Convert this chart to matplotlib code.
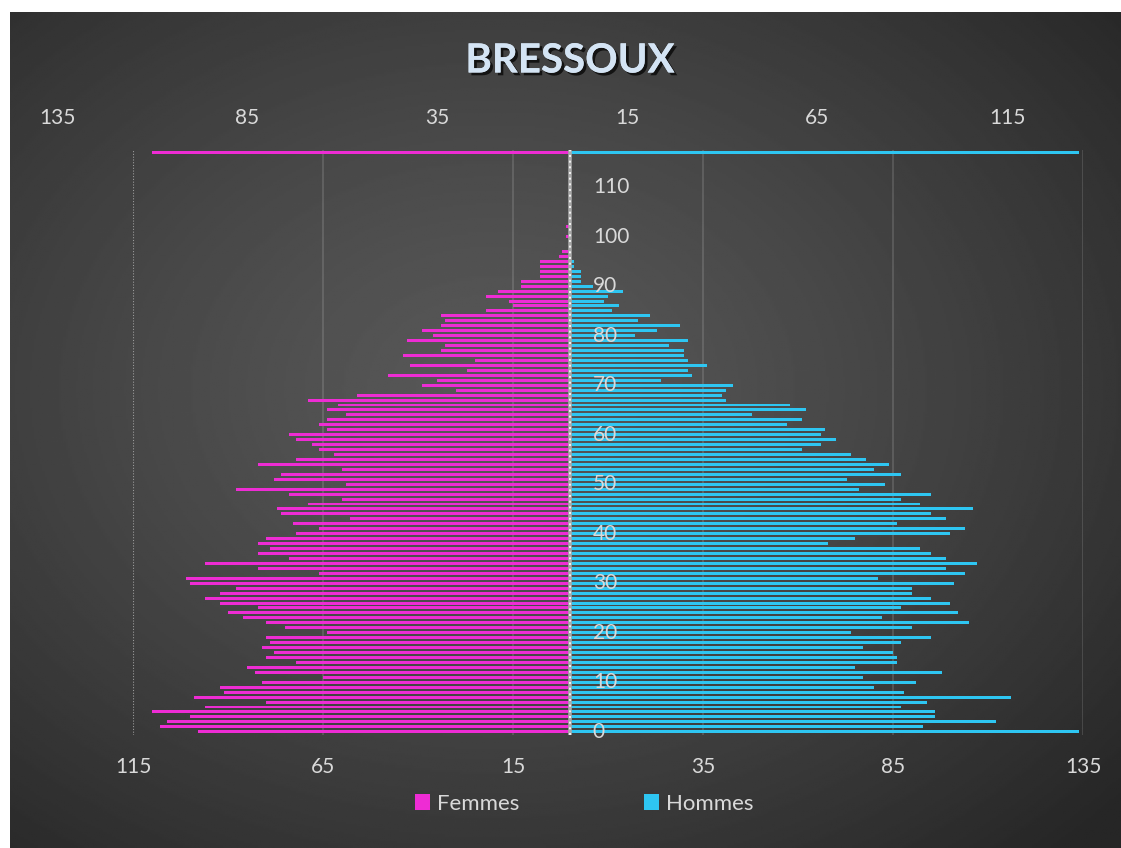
import numpy as np
import matplotlib.pyplot as plt
import matplotlib.patheffects as pe

# ages 0..102
ages = list(range(0, 103))
femmes = [98, 108, 106, 100, 110, 96, 80, 99, 91, 92,
          81, 65, 83, 85, 72, 80, 78, 81, 79, 80,
          64, 75, 80, 86, 90, 82, 92, 96, 92, 88,
          100, 101, 66, 82, 96, 74, 82, 79, 82, 80,
          72, 66, 73, 58, 76, 77, 69, 60, 74, 88,
          59, 78, 76, 60, 82, 72, 62, 66, 68, 72,
          74, 64, 66, 64, 59, 64, 61, 69, 56, 30,
          39, 35, 48, 27, 42, 25, 44, 34, 33, 43,
          36, 39, 34, 33, 34, 22, 15, 16, 22, 19,
          13, 13, 8, 8, 8, 8, 3, 2, 0, 0,
          1, 0, 1]
hommes = [134, 93, 112, 96, 96, 87, 94, 116, 88, 80,
          91, 77, 98, 75, 86, 86, 85, 77, 87, 95,
          74, 90, 105, 82, 102, 87, 100, 95, 90, 90,
          101, 81, 104, 99, 107, 99, 95, 92, 68, 75,
          100, 104, 86, 99, 95, 106, 92, 87, 95, 76,
          83, 73, 87, 80, 84, 78, 74, 61, 66, 70,
          66, 67, 57, 61, 48, 62, 58, 41, 40, 41,
          43, 24, 32, 31, 36, 31, 30, 30, 26, 31,
          17, 23, 29, 18, 21, 11, 13, 9, 10, 14,
          6, 3, 3, 3, 1, 1, 0, 0, 0, 0,
          0, 0, 0]

age_labels = list(range(0, 111, 10))
bottom_ticks = [-115, -65, -15, 35, 85, 135]
top_ticks = [-135, -85, -35, 15, 65, 115]
max_row = 117  # row of the max-value line at the top

PINK = "#EE2CD4"
CYAN = "#2EC6F2"
TXT = "#D9D9D9"
FONT = "Lato"

fig = plt.figure(figsize=(11.21, 8.48), dpi=100)
fig.patch.set_facecolor("white")

# dark radial background
bg = fig.add_axes([10 / 1121, 0, 1 - 10 / 1121, 1 - 12 / 848])
bg.set_axis_off()
yy, xx = np.mgrid[0:400, 0:530]
r = np.sqrt(((xx - 230) / 530.0) ** 2 + ((yy - 180) / 400.0) ** 2)
r = np.clip(r / 0.75, 0, 1)
val = 0.345 - (0.345 - 0.15) * r ** 1.3
bg.imshow(val, cmap="gray", vmin=0, vmax=1, aspect="auto", extent=[0, 1, 0, 1])

ax = fig.add_axes([133 / 1121, 0.1330, 950 / 1121, 0.6901])
ax.patch.set_alpha(0)
ax.set_xlim(-115, 135)
ax.set_ylim(-0.7, 117.5)

for g in bottom_ticks[1:]:
    ax.axvline(g, color="white", alpha=0.13, lw=1.5, zorder=0)
ax.axvline(-115, color="#9a9a9a", lw=0.8, ls=(0, (1, 1.5)), zorder=0)

ax.barh(ages, [-v for v in femmes], height=0.6, color=PINK, label="Femmes", zorder=2)
ax.barh(ages, hommes, height=0.6, color=CYAN, label="Hommes", zorder=2)
ax.barh([max_row], [-max(femmes)], height=0.6, color=PINK, zorder=2)
ax.barh([max_row], [max(hommes)], height=0.6, color=CYAN, zorder=2)

ax.axvline(0, color="#a8a8a8", lw=2.6, zorder=3)
ax.axvline(0, color="white", lw=1.2, ls=(0, (1.2, 2.2)), zorder=4)

for a in age_labels:
    ax.text(6, a, str(a), color=TXT, fontsize=15, family=FONT,
            ha="left", va="center", zorder=5)

ax.set_xticks(bottom_ticks)
ax.set_xticklabels([str(abs(t)) for t in bottom_ticks], color=TXT,
                   fontsize=15, family=FONT)
ax.tick_params(axis="x", length=0, pad=16)
ax.set_yticks([])
for s in ax.spines.values():
    s.set_visible(False)

for t in top_ticks:
    ax.text(t, 1.0 + 32 / 585, str(abs(t)), transform=ax.get_xaxis_transform(),
            color=TXT, fontsize=15, family=FONT, ha="center", va="center",
            clip_on=False)

fig.text(570 / 1121, 1 - 61 / 848, "BRESSOUX", color="#D4E4F4", fontsize=29,
         fontweight="bold", family=FONT, ha="center", va="center",
         path_effects=[pe.withSimplePatchShadow(offset=(2, -2), shadow_rgbFace="black",
                                                alpha=0.7), pe.Normal()])

leg = fig.legend(loc="center", bbox_to_anchor=(584 / 1121, 1 - 804 / 848), ncol=2,
                 frameon=False, handlelength=0.7, handleheight=0.7,
                 handletextpad=0.3, columnspacing=5.6,
                 prop={"family": FONT, "size": 16})
for t in leg.get_texts():
    t.set_color(TXT)

fig.savefig("out.png", dpi=100, facecolor=fig.get_facecolor())
